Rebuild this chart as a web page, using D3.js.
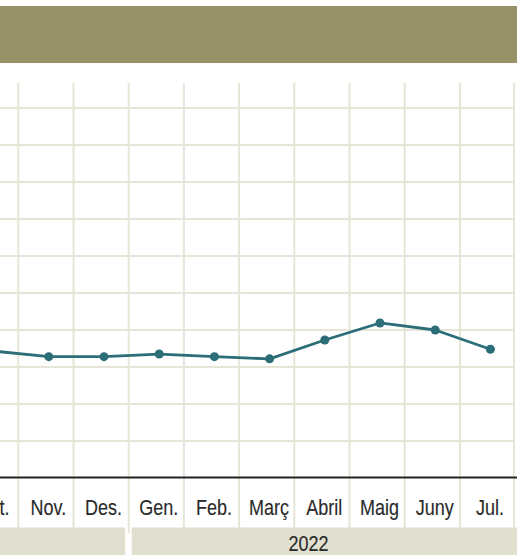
<!DOCTYPE html>
<html>
<head>
<meta charset="utf-8">
<script src="https://cdn.jsdelivr.net/npm/d3@7.9.0/dist/d3.min.js"></script>
<style>
  html, body { margin: 0; padding: 0; background: #fff; }
  svg { display: block; }
  text { font-family: "Liberation Sans", Arial, sans-serif; }
</style>
</head>
<body>
<svg id="chart" width="517" height="555"></svg>
<script>
// months shown (Oct. is cut at the left edge), with the year each belongs to
const months = ['Oct.', 'Nov.', 'Des.', 'Gen.', 'Feb.', 'Març', 'Abril', 'Maig', 'Juny', 'Jul.'];
const monthYears = ['2021', '2021', '2021', '2022', '2022', '2022', '2022', '2022', '2022', '2022'];
const values = [3.43, 3.28, 3.28, 3.35, 3.28, 3.22, 3.73, 4.19, 4.0, 3.48];
const yTicks = [1, 2, 3, 4, 5, 6, 7, 8, 9, 10];
const yearLabels = ['2022'];

const W = 517, H = 555;
const svg = d3.select('#chart');

const gridColor = '#e7e5d8';
const lineColor = '#2b6e78';
const textColor = '#2a2a2a';
const narrow = 0.8; // condensed look for the labels

// header bar
svg.append('rect')
  .attr('x', 0).attr('y', 6)
  .attr('width', W).attr('height', 57)
  .attr('fill', '#979268');

const step = 55.2;
const x = d3.scaleBand()
  .domain(months)
  .range([18.3 - step, 18.3 + (months.length - 1) * step])
  .padding(0);
const px = d => x(d) + 30.5;

const y = d3.scaleLinear().domain([0, 10]).range([478, 108]);

const gridRight = x(months[months.length - 1]) + x.bandwidth() - 1;

// horizontal grid
svg.append('g')
  .selectAll('line')
  .data(yTicks)
  .join('line')
  .attr('x1', 0).attr('x2', gridRight)
  .attr('y1', d => y(d)).attr('y2', d => y(d))
  .attr('stroke', gridColor)
  .attr('stroke-width', 2);

// year bands
const years = Array.from(new Set(monthYears));
const bandTop = 527.5;
years.forEach((yr, i) => {
  const ms = months.filter((m, j) => monthYears[j] === yr);
  let x0 = x(ms[0]);
  let x1 = x(ms[ms.length - 1]) + x.bandwidth();
  x0 = i === 0 ? 0 : x0 + 3;
  x1 = i === years.length - 1 ? W : x1 - 3.5;
  svg.append('rect')
    .attr('x', x0).attr('y', bandTop)
    .attr('width', x1 - x0).attr('height', H - bandTop)
    .attr('fill', '#e1e0d0');
});

// vertical grid (month boundaries)
const bounds = months.map(m => x(m)).concat([x(months[months.length - 1]) + x.bandwidth() - 1]);
svg.append('g')
  .selectAll('line')
  .data(bounds)
  .join('line')
  .attr('x1', d => d).attr('x2', d => d)
  .attr('y1', 83)
  .attr('y2', (d, i) => (i > 0 && i < months.length && monthYears[i] !== monthYears[i - 1]) ? 533 : 528)
  .attr('stroke', gridColor)
  .attr('stroke-width', 2);

// baseline
svg.append('line')
  .attr('x1', 0).attr('x2', W)
  .attr('y1', y(0) - 0.5).attr('y2', y(0) - 0.5)
  .attr('stroke', '#222')
  .attr('stroke-width', 2);

// line + dots
const line = d3.line()
  .x((d, i) => px(months[i]))
  .y(d => y(d));

svg.append('path')
  .datum(values)
  .attr('d', line)
  .attr('fill', 'none')
  .attr('stroke', lineColor)
  .attr('stroke-width', 2.8)
  .attr('stroke-linejoin', 'round');

svg.append('g')
  .selectAll('circle')
  .data(values)
  .join('circle')
  .attr('cx', (d, i) => px(months[i]))
  .attr('cy', d => y(d))
  .attr('r', 4.5)
  .attr('fill', lineColor);

// month labels
svg.append('g')
  .selectAll('text')
  .data(months)
  .join('text')
  .attr('transform', d => `translate(${px(d) - 0.5},514.5) scale(${narrow},1)`)
  .attr('text-anchor', 'middle')
  .attr('font-size', 22.5)
  .attr('fill', textColor)
  .attr('stroke', textColor)
  .attr('stroke-width', 0.15)
  .text(d => d);

// year label
svg.append('text')
  .attr('transform', `translate(308.5,550.5) scale(${narrow},1)`)
  .attr('text-anchor', 'middle')
  .attr('font-size', 22.5)
  .attr('fill', textColor)
  .attr('stroke', textColor)
  .attr('stroke-width', 0.15)
  .text(yearLabels[0]);
</script>
</body>
</html>
